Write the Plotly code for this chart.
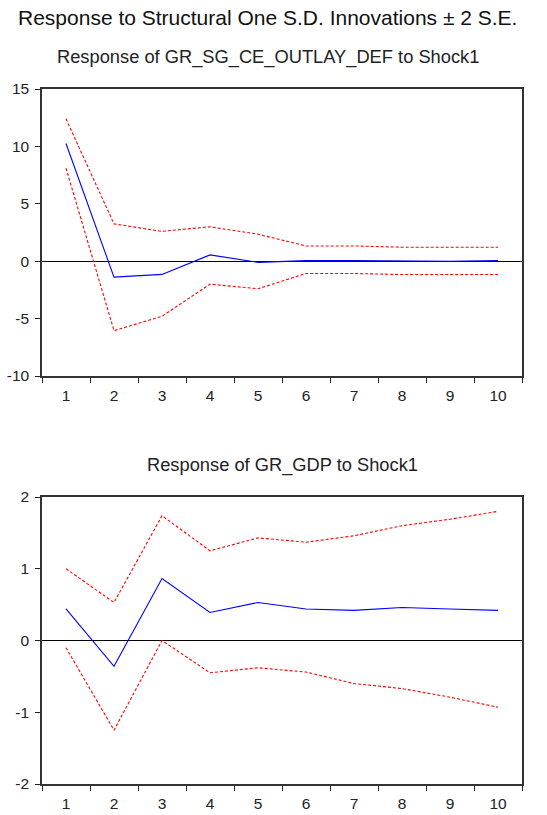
import plotly.graph_objects as go

# Impulse-response horizons
periods = ["1", "2", "3", "4", "5", "6", "7", "8", "9", "10"]

# Response of GR_SG_CE_OUTLAY_DEF to Shock1
outlay_resp = [10.25, -1.39, -1.15, 0.55, -0.10, 0.05, 0.05, 0.0, 0.0, 0.05]
outlay_upper = [12.4, 3.25, 2.6, 3.0, 2.35, 1.33, 1.33, 1.22, 1.22, 1.22]
outlay_lower = [8.1, -6.05, -4.8, -2.0, -2.4, -1.07, -1.07, -1.16, -1.16, -1.16]

# Response of GR_GDP to Shock1
gdp_resp = [0.44, -0.36, 0.865, 0.39, 0.53, 0.44, 0.42, 0.46, 0.44, 0.42]
gdp_upper = [1.0, 0.53, 1.74, 1.25, 1.43, 1.37, 1.46, 1.6, 1.69, 1.8]
gdp_lower = [-0.10, -1.25, 0.0, -0.45, -0.38, -0.44, -0.6, -0.67, -0.79, -0.93]

y_ticks_top = [-10, -5, 0, 5, 10, 15]
y_ticks_bottom = [-2, -1, 0, 1, 2]

FONT = "Liberation Sans, Arial, sans-serif"
BLUE = "#0000ff"
RED = "#ff0000"
W, H = 547, 815
ML, MR = 42, 25

fig = go.Figure()


def add_panel(resp, upper, lower, xa, ya):
    for vals, color, dash in ((upper, RED, "3px,2px"), (lower, RED, "3px,2px"), (resp, BLUE, "solid")):
        fig.add_trace(go.Scatter(
            x=periods, y=vals, mode="lines", xaxis=xa, yaxis=ya,
            line=dict(color=color, width=1.1, dash=dash),
            showlegend=False, hoverinfo="skip",
        ))


add_panel(outlay_resp, outlay_upper, outlay_lower, "x", "y")
add_panel(gdp_resp, gdp_upper, gdp_lower, "x2", "y2")

tick_font = dict(family=FONT, size=15.5, color="#222")

xaxis_style = dict(
    type="category", tickson="boundaries", ticks="outside", ticklen=5,
    tickcolor="#222", tickwidth=1.3, showline=True, linecolor="#333",
    linewidth=1.5, mirror=True, showgrid=False, zeroline=False,
    tickfont=tick_font, range=[-0.5, 9.5], ticklabelstandoff=5,
    automargin=False,
)
yaxis_style = dict(
    ticks="outside", ticklen=5, tickcolor="#222", tickwidth=1.3,
    showline=True, linecolor="#333", linewidth=1.5, mirror=True,
    showgrid=False, zeroline=True, zerolinecolor="#000", zerolinewidth=1.2,
    tickfont=tick_font, ticklabelstandoff=3, automargin=False,
)


def hyphen_labels(vals):
    return [str(v) for v in vals]


def px_x(x):
    return (x - ML) / (W - ML - MR)


def px_y(y):
    return 1 - y / H


fig.update_layout(
    template="none",
    width=W, height=H,
    margin=dict(l=ML, r=MR, t=0, b=0, pad=0),
    paper_bgcolor="white", plot_bgcolor="white",
    xaxis=dict(xaxis_style, domain=[0, 1], anchor="y"),
    yaxis=dict(yaxis_style, domain=[px_y(376), px_y(89)], range=[-10, 15],
               tickvals=y_ticks_top, ticktext=hyphen_labels(y_ticks_top), anchor="x"),
    xaxis2=dict(xaxis_style, domain=[0, 1], anchor="y2"),
    yaxis2=dict(yaxis_style, domain=[px_y(784), px_y(497)], range=[-2, 2],
                tickvals=y_ticks_bottom, ticktext=hyphen_labels(y_ticks_bottom), anchor="x2"),
    annotations=[
        dict(text="Response to Structural One S.D. Innovations ± 2 S.E.",
             x=px_x(267), y=px_y(18), xref="paper", yref="paper",
             xanchor="center", yanchor="middle", showarrow=False,
             font=dict(family=FONT, size=21, color="#111")),
        dict(text="Response of GR_SG_CE_OUTLAY_DEF to Shock1",
             x=px_x(268), y=px_y(57), xref="paper", yref="paper",
             xanchor="center", yanchor="middle", showarrow=False,
             font=dict(family=FONT, size=18.3, color="#222")),
        dict(text="Response of GR_GDP to Shock1",
             x=px_x(282), y=px_y(465), xref="paper", yref="paper",
             xanchor="center", yanchor="middle", showarrow=False,
             font=dict(family=FONT, size=18.3, color="#222")),
    ],
)

fig.write_html("out.html")
